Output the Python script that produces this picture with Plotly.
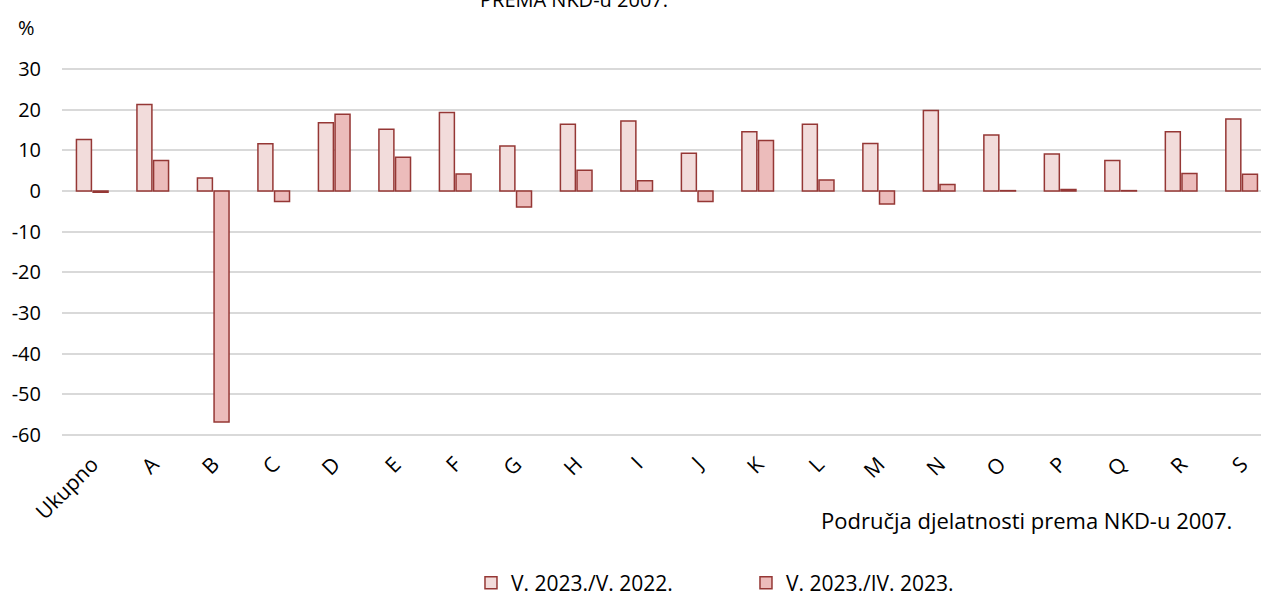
import plotly.graph_objects as go

categories = ["Ukupno", "A", "B", "C", "D", "E", "F", "G", "H", "I", "J",
              "K", "L", "M", "N", "O", "P", "Q", "R", "S"]
yoy = [12.7, 21.3, 3.2, 11.6, 16.8, 15.2, 19.3, 11.1, 16.4, 17.2, 9.3,
       14.6, 16.4, 11.7, 19.8, 13.8, 9.1, 7.5, 14.6, 17.7]
mom = [-0.3, 7.5, -56.8, -2.6, 18.9, 8.3, 4.2, -3.9, 5.1, 2.5, -2.6,
       12.4, 2.7, -3.2, 1.6, 0.1, 0.4, 0.1, 4.3, 4.1]
series_names = ["V. 2023./V. 2022.", "V. 2023./IV. 2023."]
y_ticks = [30, 20, 10, 0, -10, -20, -30, -40, -50, -60]

FONT = "Open Sans"
OUTLINE = "#953735"

fig = go.Figure()
fig.add_trace(go.Bar(x=categories, y=yoy, name=series_names[0],
                     marker=dict(color="#F2DCDB", line=dict(color=OUTLINE, width=1.5))))
fig.add_trace(go.Bar(x=categories, y=mom, name=series_names[1],
                     marker=dict(color="#ECBCBB", line=dict(color=OUTLINE, width=1.5))))

fig.update_layout(
    width=1261, height=599,
    margin=dict(l=62, r=0, t=65, b=160, autoexpand=False),
    paper_bgcolor="white", plot_bgcolor="white",
    font=dict(family=FONT, size=20, color="#000000"),
    barmode="group", bargap=0.45, bargroupgap=0.1,
    showlegend=True,
    legend=dict(orientation="h", x=0.3735, xanchor="left", xref="container",
                y=-0.385, yanchor="middle", yref="paper",
                font=dict(size=21), entrywidth=230, entrywidthmode="pixels",
                itemwidth=30),
    xaxis=dict(range=[-0.5, 19.32], tickangle=-45, showgrid=False, automargin=False,
               showline=False, ticks="", tickfont=dict(size=21), ticklabelstandoff=8),
    yaxis=dict(range=[-61, 31], tickvals=y_ticks, ticktext=[str(v) for v in y_ticks],
               showgrid=True, gridcolor="#D9D9D9", gridwidth=2, automargin=False,
               zeroline=False, showline=False, ticks="", ticklabelstandoff=20,
               tickfont=dict(size=20)),
    annotations=[
        dict(text="PREMA NKD-u 2007.", xref="paper", yref="paper", x=0.427, y=1,
             xanchor="center", yanchor="middle", yshift=66, showarrow=False,
             font=dict(size=20)),
        dict(text="%", xref="paper", yref="paper", x=0, y=1, xanchor="center",
             yanchor="middle", xshift=-36, yshift=38, showarrow=False,
             font=dict(size=20)),
        dict(text="Područja djelatnosti prema NKD-u 2007.", xref="paper", yref="paper",
             x=1, y=0, xanchor="right", yanchor="middle", xshift=-27, yshift=-81,
             showarrow=False, font=dict(size=22)),
    ],
)

fig.write_html("out.html", config={"displayModeBar": False},
               post_script="document.body.style.margin='0';document.body.style.overflow='hidden';")
